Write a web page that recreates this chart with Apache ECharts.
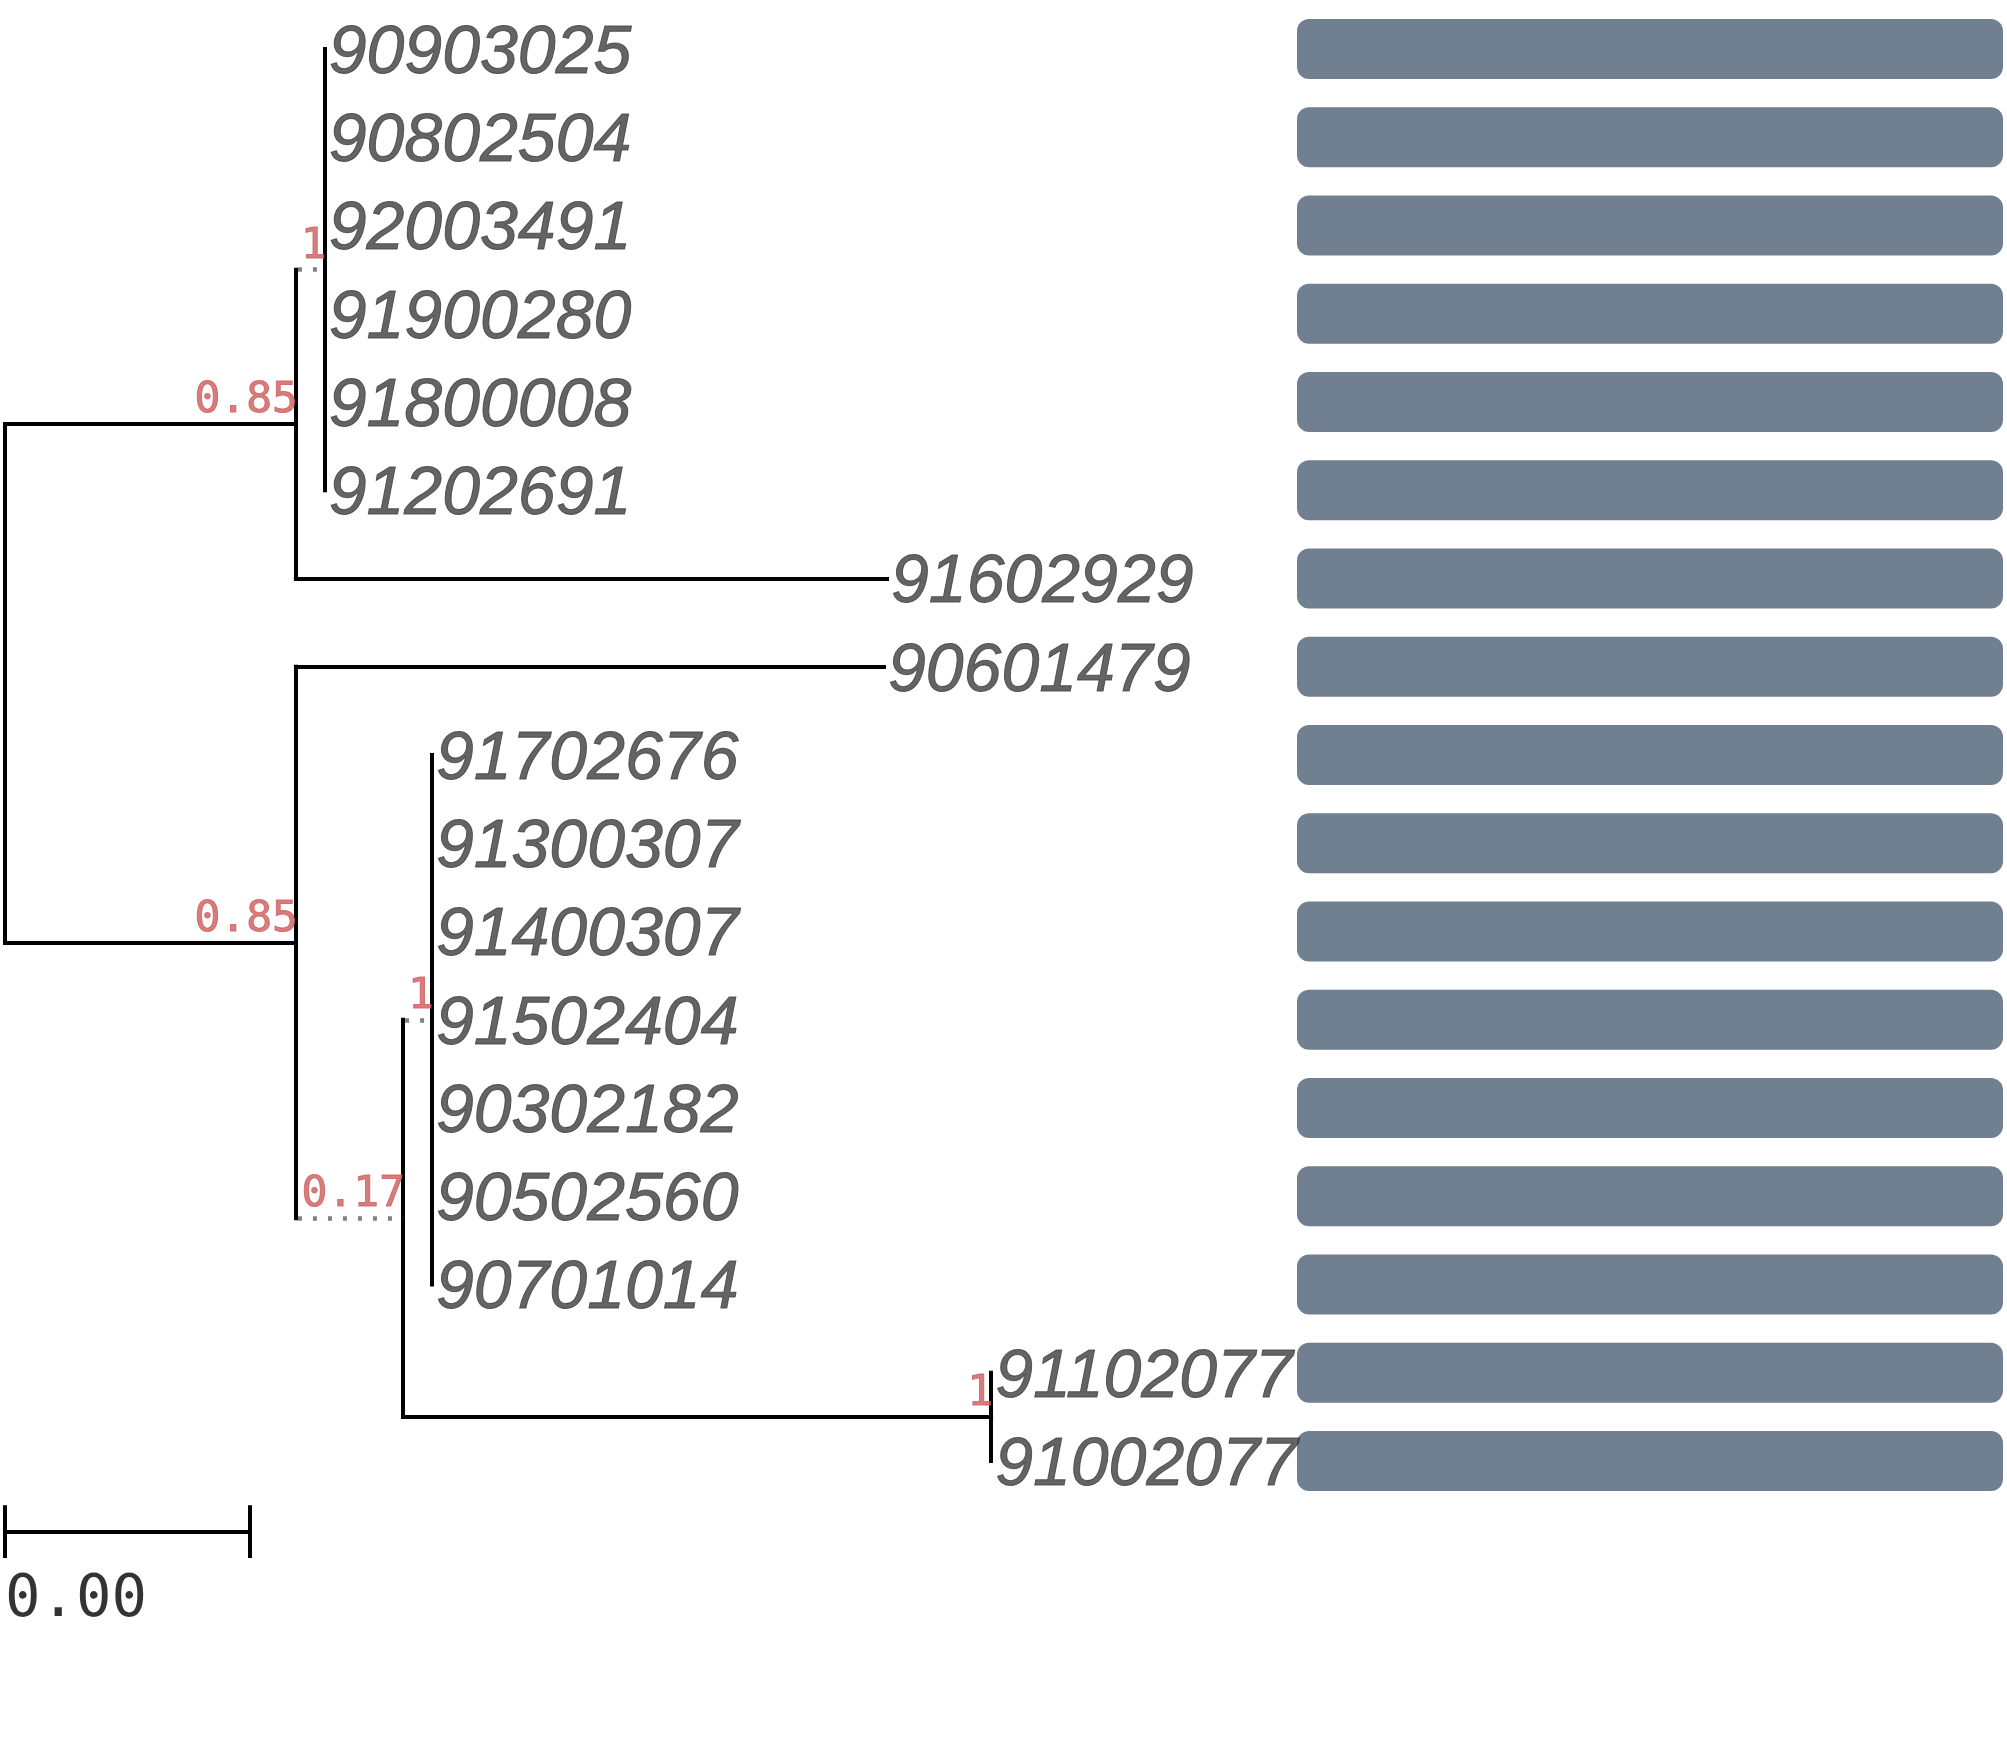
<!DOCTYPE html>
<html>
<head>
<meta charset="utf-8">
<script src="https://cdn.jsdelivr.net/npm/echarts@6/dist/echarts.min.js"></script>
<style>
html, body { margin: 0; padding: 0; background: #fff; }
#main { width: 2007px; height: 1754px; }
</style>
</head>
<body>
<div id="main"></div>
<script>
// tips, top to bottom
var tipLabels = ['90903025', '90802504', '92003491', '91900280', '91800008', '91202691',
  '91602929', '90601479', '91702676', '91300307', '91400307', '91502404', '90302182',
  '90502560', '90701014', '91102077', '91002077'];
var tipParent = ['A1', 'A1', 'A1', 'A1', 'A1', 'A1', 'A', 'B',
  'D', 'D', 'D', 'D', 'D', 'D', 'D', 'E', 'E'];
var tipBranch = [0, 0, 0, 0, 0, 0, 0.00965, 0.0096, 0, 0, 0, 0, 0, 0, 0, 0, 0];

// internal nodes
var nodeNames = ['root', 'A', 'A1', 'B', 'C', 'D', 'E'];
var nodeParent = [null, 'root', 'A', 'root', 'B', 'C', 'C'];
var nodeDepth = [0, 0.00475, 0.00522, 0.00475, 0.0065, 0.00697, 0.0161];
var nodeSupport = ['', '0.85', '1', '0.85', '0.17', '1', '1'];
var dottedNodes = ['A1', 'C', 'D'];

// right-hand bars
var barValues = [1, 1, 1, 1, 1, 1, 1, 1, 1, 1, 1, 1, 1, 1, 1, 1, 1];

var scaleWidth = 0.004, scaleLabel = '0.00';

var ROW = 88.25, TOP = 49 - ROW / 2;
var scaleY = 17.8;

// layout: y of tips = index, internal node y = mean of children
var nodeX = {}, nodeY = {};
nodeNames.forEach(function (n, i) { nodeX[n] = nodeDepth[i]; });
function childrenOf(name) {
  var c = [];
  nodeNames.forEach(function (n, i) { if (nodeParent[i] === name) c.push({ node: n }); });
  tipParent.forEach(function (p, i) { if (p === name) c.push({ tip: i }); });
  return c;
}
function calcY(name) {
  var ys = childrenOf(name).map(function (c) {
    return c.node ? calcY(c.node) : c.tip + 1;
  });
  var s = 0;
  ys.forEach(function (v) { s += v; });
  nodeY[name] = s / ys.length;
  return nodeY[name];
}
calcY('root');

var solid = [], dotted = [];
nodeNames.forEach(function (n, i) {
  var p = nodeParent[i];
  if (!p) return;
  solid.push([[nodeX[p], nodeY[p]], [nodeX[p], nodeY[n]]]);
  var seg = [[nodeX[p], nodeY[n]], [nodeX[n], nodeY[n]]];
  if (dottedNodes.indexOf(n) >= 0) dotted.push(seg); else solid.push(seg);
});
var tipPoints = [];
tipLabels.forEach(function (t, i) {
  var p = tipParent[i], y = i + 1;
  var x = nodeX[p] + tipBranch[i];
  solid.push([[nodeX[p], nodeY[p]], [nodeX[p], y]]);
  if (tipBranch[i] > 0) solid.push([[nodeX[p], y], [x, y]]);
  tipPoints.push([x, y, t]);
});
var nodePoints = [];
nodeNames.forEach(function (n, i) {
  if (nodeSupport[i]) nodePoints.push([nodeX[n], nodeY[n], nodeSupport[i]]);
});
var scaleSegs = [
  [[0, scaleY], [scaleWidth, scaleY]],
  [[0, scaleY - 0.3], [0, scaleY + 0.3]],
  [[scaleWidth, scaleY - 0.3], [scaleWidth, scaleY + 0.3]]
];

var chart = echarts.init(document.getElementById('main'));
var option = {
  backgroundColor: '#ffffff',
  animation: false,
  grid: [
    { left: 5, top: TOP, width: 1225, height: 19 * ROW },
    { left: 1297, top: TOP, width: 706, height: 17 * ROW }
  ],
  xAxis: [
    { gridIndex: 0, type: 'value', min: 0, max: 0.02, show: false },
    { gridIndex: 1, type: 'value', min: 0, max: 1, show: false }
  ],
  yAxis: [
    { gridIndex: 0, type: 'value', min: 0.5, max: 19.5, inverse: true, show: false },
    { gridIndex: 1, type: 'category', data: tipLabels, inverse: true, show: false }
  ],
  series: [
    {
      type: 'lines', coordinateSystem: 'cartesian2d', xAxisIndex: 0, yAxisIndex: 0,
      silent: true,
      data: solid.map(function (s) { return { coords: s }; }),
      lineStyle: { color: '#000', width: 4, opacity: 1, cap: 'square' }
    },
    {
      type: 'lines', coordinateSystem: 'cartesian2d', xAxisIndex: 0, yAxisIndex: 0,
      silent: true,
      data: dotted.map(function (s) { return { coords: s }; }),
      lineStyle: { color: '#808080', width: 4.5, opacity: 1, type: [4, 11], dashOffset: -2 }
    },
    {
      type: 'lines', coordinateSystem: 'cartesian2d', xAxisIndex: 0, yAxisIndex: 0,
      silent: true,
      data: scaleSegs.map(function (s) { return { coords: s }; }),
      lineStyle: { color: '#000', width: 4, opacity: 1 }
    },
    {
      type: 'scatter', xAxisIndex: 0, yAxisIndex: 0, symbolSize: 0, silent: true,
      data: tipPoints,
      label: {
        show: true, position: [4, 5], align: 'left', verticalAlign: 'middle',
        formatter: function (p) { return p.value[2]; },
        fontFamily: 'Liberation Sans', fontStyle: 'italic', fontSize: 68, color: '#3d3d3d',
        textBorderColor: '#3d3d3d', textBorderWidth: 1
      }
    },
    {
      type: 'scatter', xAxisIndex: 0, yAxisIndex: 0, symbolSize: 0, silent: true,
      data: nodePoints,
      label: {
        show: true, position: [2, -23], align: 'right', verticalAlign: 'middle',
        formatter: function (p) { return p.value[2]; },
        fontFamily: 'DejaVu Sans Mono', fontSize: 43, color: '#CD5C5C',
        textBorderColor: '#CD5C5C', textBorderWidth: 1
      }
    },
    {
      type: 'scatter', xAxisIndex: 0, yAxisIndex: 0, symbolSize: 0, silent: true,
      data: [[0, scaleY, scaleLabel]],
      label: {
        show: true, position: [0, 69], align: 'left', verticalAlign: 'middle',
        formatter: function (p) { return p.value[2]; },
        fontFamily: 'DejaVu Sans Mono', fontSize: 59, color: '#000'
      }
    },
    {
      type: 'bar', xAxisIndex: 1, yAxisIndex: 1, silent: true,
      data: barValues, barWidth: 60,
      itemStyle: { color: '#708090', borderRadius: 12 }
    }
  ]
};
chart.setOption(option);
</script>
</body>
</html>
